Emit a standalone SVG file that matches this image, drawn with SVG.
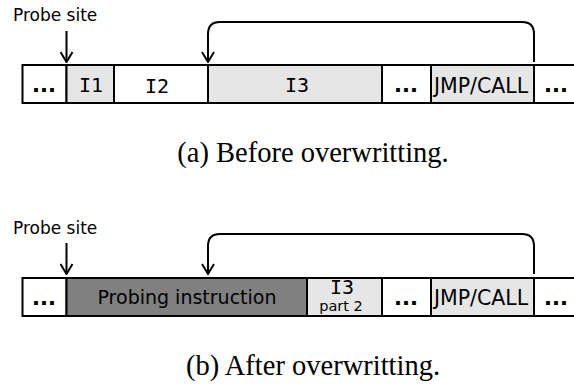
<svg xmlns="http://www.w3.org/2000/svg" width="574" height="387" viewBox="0 0 574 387">
  <style>
    .cell { stroke: #000; stroke-width: 2; }
    .plain { fill: #ffffff; }
    .light { fill: #e6e6e6; }
    .dark { fill: #808080; }
    .lbl { font-family: "DejaVu Sans", Verdana, sans-serif; font-size: 19px; fill: #000; text-anchor: middle; }
    .jmp { font-size: 20.5px; }
    .mono { font-family: "DejaVu Sans Mono", monospace; font-size: 20px; fill: #000; text-anchor: middle; }
    .dots { font-family: "DejaVu Sans", sans-serif; font-size: 21px; font-weight: bold; fill: #000; text-anchor: middle; }
    .small { font-family: "DejaVu Sans", Verdana, sans-serif; font-size: 14.5px; fill: #000; text-anchor: middle; }
    .site { font-family: "DejaVu Sans", Verdana, sans-serif; font-size: 17px; fill: #000; }
    .cap { font-family: "Liberation Serif", "Times New Roman", serif; font-size: 28.5px; fill: #000; text-anchor: middle; }
    .wire { fill: none; stroke: #000; stroke-width: 2; }
  </style>
  <defs>
    <marker id="open-arrow" viewBox="0 0 12 14" refX="11" refY="7" markerWidth="12" markerHeight="14" markerUnits="userSpaceOnUse" orient="auto">
      <path d="M1,1 L11,7 L1,13" fill="none" stroke="#000" stroke-width="2"/>
    </marker>
  </defs>

  <!-- (a) before overwriting -->
  <g id="before">
    <g id="a-dots-left"><rect class="cell plain" x="22.5" y="65" width="44" height="38"/><text class="dots" x="44" y="92">...</text></g>
    <g id="a-i1"><rect class="cell light" x="66.5" y="65" width="47.5" height="38"/><text class="mono" x="91" y="92">I1</text></g>
    <g id="a-i2"><rect class="cell plain" x="114" y="65" width="94" height="38"/><text class="mono" x="157" y="93">I2</text></g>
    <g id="a-i3"><rect class="cell light" x="208" y="65" width="174" height="38"/><text class="mono" x="297" y="92">I3</text></g>
    <g id="a-dots-mid"><rect class="cell plain" x="382" y="65" width="49" height="38"/><text class="dots" x="406" y="92">...</text></g>
    <g id="a-jmp"><rect class="cell light" x="431" y="65" width="103" height="38"/><text class="lbl jmp" x="481" y="93">JMP/CALL</text></g>
    <g id="a-dots-right"><rect class="cell plain" x="534" y="65" width="60" height="38"/><text class="dots" x="556" y="92">...</text></g>
    <g id="a-probe-label"><text class="site" x="13" y="20.5">Probe site</text></g>
    <text class="cap" x="313" y="162">(a) Before overwritting.</text>
  </g>

  <!-- (b) after overwriting -->
  <g id="after">
    <g id="b-dots-left"><rect class="cell plain" x="22.5" y="278" width="44" height="38"/><text class="dots" x="44" y="305">...</text></g>
    <g id="b-probe"><rect class="cell dark" x="66.5" y="278" width="240.5" height="38"/><text class="lbl" x="187" y="304">Probing instruction</text></g>
    <g id="b-i3p2"><rect class="cell light" x="307" y="278" width="75" height="38"/><text class="mono" x="342" y="294" font-size="18">I3</text><text class="small" x="341" y="311">part 2</text></g>
    <g id="b-dots-mid"><rect class="cell plain" x="382" y="278" width="49" height="38"/><text class="dots" x="406" y="305">...</text></g>
    <g id="b-jmp"><rect class="cell light" x="431" y="278" width="103" height="38"/><text class="lbl jmp" x="481" y="305">JMP/CALL</text></g>
    <g id="b-dots-right"><rect class="cell plain" x="534" y="278" width="60" height="38"/><text class="dots" x="556" y="305">...</text></g>
    <g id="b-probe-label"><text class="site" x="13" y="234">Probe site</text></g>
    <text class="cap" x="313" y="375">(b) After overwritting.</text>
  </g>

  <!-- connectors -->
  <g id="connectors">
    <path class="wire" d="M66.5,31 L66.5,62" marker-end="url(#open-arrow)"/>
    <path class="wire" d="M534,62 L534,34 Q534,22 522,22 L220,22 Q208,22 208,34 L208,62" marker-end="url(#open-arrow)"/>
    <path class="wire" d="M66.5,243 L66.5,274" marker-end="url(#open-arrow)"/>
    <path class="wire" d="M534,274 L534,246 Q534,234 522,234 L220,234 Q208,234 208,246 L208,274" marker-end="url(#open-arrow)"/>
  </g>
</svg>
